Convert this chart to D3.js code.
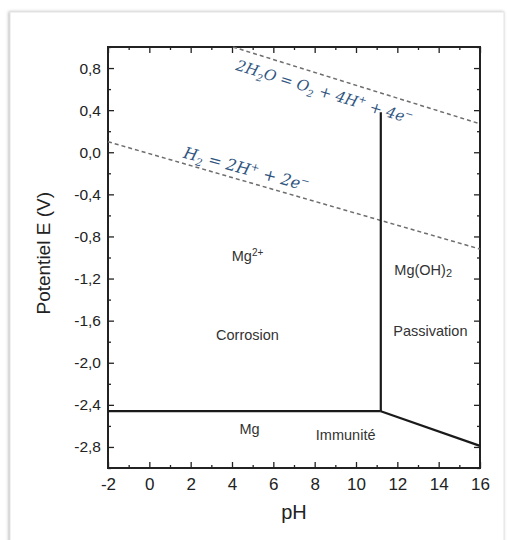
<!DOCTYPE html>
<html>
<head>
<meta charset="utf-8">
<script src="https://cdn.jsdelivr.net/npm/d3@7.9.0/dist/d3.min.js"></script>
<style>
  body { margin: 0; background: #fff; }
  svg { display: block; font-family: "Liberation Sans", Arial, sans-serif; }
</style>
</head>
<body>
<div id="chart"></div>
<script>
// Pourbaix diagram of Mg
const xTicks = [-2, 0, 2, 4, 6, 8, 10, 12, 14, 16];
const yTicks = [-2.8, -2.4, -2.0, -1.6, -1.2, -0.8, -0.4, 0.0, 0.4, 0.8];
const xDomain = [-2, 16];
const yDomain = [-3.0, 1.0];

// solid boundaries [pH, E]
const mgLine = [[-2, -2.46], [11.2, -2.46]];
const hydroxideLine = [[11.2, -2.46], [16, -2.79]];
const verticalLine = [[11.2, -2.46], [11.2, 0.38]];
// water stability lines (dashed)
const h2Line = [[-2, 0.1], [16, -0.92]];
const o2Line = [[4.05, 1.0], [16, 0.27]];

const regionLabels = [
  {text: "Mg", sup: "2+", x: 4.75, y: -1.0},
  {text: "Mg(OH)", sub: "2", x: 13.25, y: -1.13},
  {text: "Corrosion", x: 4.75, y: -1.75},
  {text: "Passivation", x: 13.6, y: -1.71},
  {text: "Mg", x: 4.85, y: -2.64},
  {text: "Immunité", x: 9.5, y: -2.7}
];

const width = 507, height = 540;
const margin = {left: 108, right: 27, top: 47, bottom: 72};

const svg = d3.select("#chart").append("svg")
    .attr("width", width)
    .attr("height", height);

// card border with soft shadow
const defs = svg.append("defs");
const f = defs.append("filter").attr("id", "shadow").attr("x", -0.05).attr("y", -0.05).attr("width", 1.1).attr("height", 1.1);
f.append("feDropShadow").attr("dx", -1).attr("dy", 0).attr("stdDeviation", 1.5).attr("flood-color", "#999").attr("flood-opacity", 0.7);
svg.append("rect")
    .attr("x", 10).attr("y", 12)
    .attr("width", 494).attr("height", 560)
    .attr("fill", "#fff")
    .attr("stroke", "#e4e4e4")
    .attr("filter", "url(#shadow)");

const x = d3.scaleLinear().domain(xDomain).range([margin.left, width - margin.right]);
const y = d3.scaleLinear().domain(yDomain).range([height - margin.bottom, margin.top]);

const fmt = d => d3.format(".1f")(d).replace(".", ",").replace("−", "-");

// minor ticks
const xMinor = d3.range(-1, 16, 2);
const yMinor = d3.range(-3.0, 1.01, 0.4).map(v => +v.toFixed(1));

function tickAxis(axis, scale, ticks, size, pos) {
  return svg.append("g")
      .attr("transform", pos)
      .call(axis(scale).tickValues(ticks).tickSize(size).tickFormat(""))
      .call(g => g.select(".domain").remove())
      .call(g => g.selectAll("line").attr("stroke", "#222").attr("stroke-width", 1.3));
}
const bottomY = height - margin.bottom, rightX = width - margin.right;
// inward ticks on all four sides
tickAxis(d3.axisTop, x, xTicks, 6, `translate(0,${bottomY})`);
tickAxis(d3.axisTop, x, xMinor, 3, `translate(0,${bottomY})`);
tickAxis(d3.axisBottom, x, xTicks, 6, `translate(0,${margin.top})`);
tickAxis(d3.axisBottom, x, xMinor, 3, `translate(0,${margin.top})`);
tickAxis(d3.axisRight, y, yTicks, 6, `translate(${margin.left},0)`);
tickAxis(d3.axisRight, y, yMinor, 3, `translate(${margin.left},0)`);
tickAxis(d3.axisLeft, y, yTicks, 6, `translate(${rightX},0)`);
tickAxis(d3.axisLeft, y, yMinor, 3, `translate(${rightX},0)`);

// tick labels
svg.append("g")
    .attr("transform", `translate(0,${bottomY})`)
    .call(d3.axisBottom(x).tickValues(xTicks).tickSize(0).tickPadding(10).tickFormat(d => String(d)))
    .call(g => g.select(".domain").remove())
    .call(g => g.selectAll("text").attr("font-size", 17).attr("fill", "#222")
        .attr("font-family", "'Liberation Sans', Arial, sans-serif"));
svg.append("g")
    .attr("transform", `translate(${margin.left},0)`)
    .call(d3.axisLeft(y).tickValues(yTicks).tickSize(0).tickPadding(7).tickFormat(fmt))
    .call(g => g.select(".domain").remove())
    .call(g => g.selectAll("text").attr("font-size", 15.5).attr("fill", "#222")
        .attr("font-family", "'Liberation Sans', Arial, sans-serif"));

// frame
svg.append("rect")
    .attr("x", margin.left).attr("y", margin.top)
    .attr("width", rightX - margin.left)
    .attr("height", bottomY - margin.top)
    .attr("fill", "none")
    .attr("stroke", "#222")
    .attr("stroke-width", 2);

const line = d3.line().x(d => x(d[0])).y(d => y(d[1]));

// dashed water lines
[h2Line, o2Line].forEach(pts => {
  svg.append("path")
      .attr("d", line(pts))
      .attr("fill", "none")
      .attr("stroke", "#6e6e6e")
      .attr("stroke-width", 1.5)
      .attr("stroke-dasharray", "4,3");
});

// solid boundaries
[mgLine, hydroxideLine, verticalLine].forEach(pts => {
  svg.append("path")
      .attr("d", line(pts))
      .attr("fill", "none")
      .attr("stroke", "#1a1a1a")
      .attr("stroke-width", 2.2);
});

// equation labels along the dashed lines
function angleOf(pts) {
  const dx = x(pts[1][0]) - x(pts[0][0]), dy = y(pts[1][1]) - y(pts[0][1]);
  return Math.atan2(dy, dx) * 180 / Math.PI;
}
function eqLabel(px, py, ang, size, parts) {
  const t = svg.append("text")
      .attr("transform", `translate(${px},${py}) rotate(${ang})`)
      .attr("font-family", "'DejaVu Serif', 'Liberation Serif', serif")
      .attr("font-style", "italic")
      .attr("font-size", size)
      .attr("fill", "#2f5580");
  parts.forEach(p => {
    const s = t.append("tspan").text(p[0]);
    if (p[1] === "sub") s.attr("font-size", size * 0.66).attr("dy", 4);
    if (p[1] === "sup") s.attr("font-size", size * 0.66).attr("dy", -6);
    if (p[1] === "back") s.attr("dy", p[2]);
  });
}
eqLabel(x(4.15), y(0.785), angleOf(o2Line), 15, [
  ["2H"], ["2", "sub"], ["O = O", "back", -4], ["2", "sub"], [" + 4H", "back", -4],
  ["+", "sup"], [" + 4e", "back", 6], ["−", "sup"]
]);
eqLabel(x(1.6), y(-0.05), angleOf(h2Line) - 1, 16, [
  ["H"], ["2", "sub"], [" = 2H", "back", -4], ["+", "sup"], [" + 2e", "back", 6], ["−", "sup"]
]);

// region labels
regionLabels.forEach(d => {
  const t = svg.append("text")
      .attr("x", x(d.x)).attr("y", y(d.y))
      .attr("text-anchor", "middle")
      .attr("dominant-baseline", "middle")
      .attr("font-size", 14.5)
      .attr("fill", "#333")
      .text(d.text);
  if (d.sup) t.append("tspan").attr("font-size", 10).attr("dy", -5).text(d.sup);
  if (d.sub) t.append("tspan").attr("font-size", 11).attr("dy", 3).text(d.sub);
});

// axis titles
svg.append("text")
    .attr("x", x(7)).attr("y", 519)
    .attr("text-anchor", "middle")
    .attr("font-size", 20)
    .attr("fill", "#222")
    .text("pH");
svg.append("text")
    .attr("transform", `translate(50,${y(-0.96)}) rotate(-90)`)
    .attr("text-anchor", "middle")
    .attr("font-size", 19)
    .attr("fill", "#222")
    .text("Potentiel E (V)");
</script>
</body>
</html>
